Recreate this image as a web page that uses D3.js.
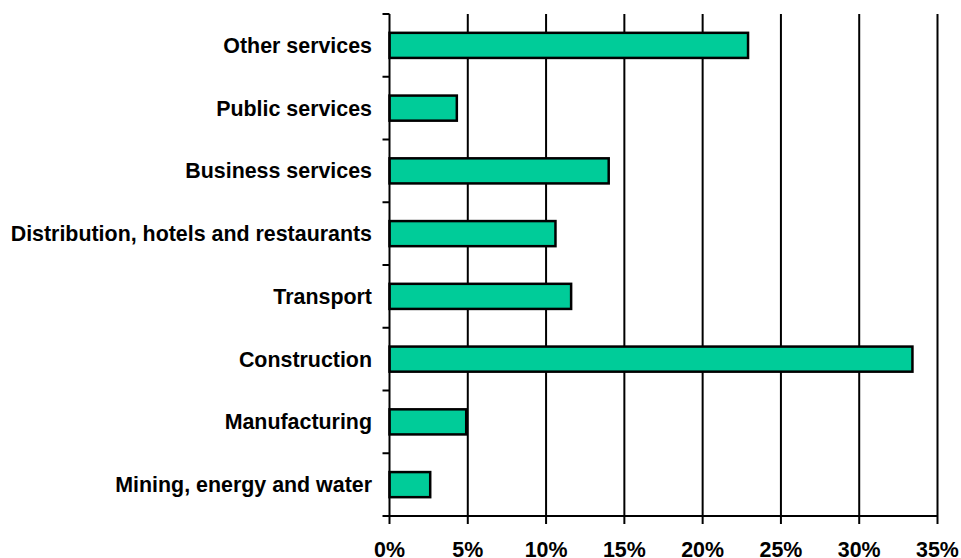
<!DOCTYPE html>
<html>
<head>
<meta charset="utf-8">
<script src="https://cdn.jsdelivr.net/npm/d3@7"></script>
<style>
  html, body { margin: 0; padding: 0; background: #fff; }
  svg { display: block; }
  text { font-family: "Liberation Sans", Arial, sans-serif; font-weight: bold; fill: #000; }
</style>
</head>
<body>
<svg id="chart" width="961" height="558"></svg>
<script>
// Sectors, top to bottom
const categories = [
  "Other services",
  "Public services",
  "Business services",
  "Distribution, hotels and restaurants",
  "Transport",
  "Construction",
  "Manufacturing",
  "Mining, energy and water"
];
// Share of each sector, in percent
const shares = [22.9, 4.3, 14.0, 10.6, 11.6, 33.4, 4.9, 2.6];
const xTicks = [0, 5, 10, 15, 20, 25, 30, 35];

const svg = d3.select("#chart");
const plotLeft = 389.5, plotRight = 937.5, plotTop = 14, plotBottom = 516;
const fontSize = 21.4;

const x = d3.scaleLinear().domain([0, 35]).range([plotLeft, plotRight]);
const y = d3.scaleBand().domain(categories).range([plotTop, plotBottom]).paddingInner(0.6).paddingOuter(0.3);

// vertical gridlines
svg.append("g")
  .selectAll("line")
  .data(xTicks.slice(1))
  .join("line")
  .attr("x1", d => x(d)).attr("x2", d => x(d))
  .attr("y1", plotTop).attr("y2", plotBottom)
  .attr("stroke", "#000").attr("stroke-width", 2);

// bars
svg.append("g")
  .selectAll("rect")
  .data(categories)
  .join("rect")
  .attr("x", x(0))
  .attr("y", d => y(d))
  .attr("width", (d, i) => x(shares[i]) - x(0))
  .attr("height", y.bandwidth())
  .attr("fill", "#00CC99")
  .attr("stroke", "#000")
  .attr("stroke-width", 2.5);

// category axis: line with tick marks at band boundaries
const yAxis = svg.append("g");
yAxis.append("line")
  .attr("x1", plotLeft).attr("x2", plotLeft)
  .attr("y1", plotTop).attr("y2", plotBottom)
  .attr("stroke", "#000").attr("stroke-width", 2);
const step = (plotBottom - plotTop) / categories.length;
yAxis.selectAll("line.tick")
  .data(d3.range(categories.length + 1))
  .join("line")
  .attr("class", "tick")
  .attr("x1", plotLeft - 7).attr("x2", plotLeft)
  .attr("y1", i => plotTop + i * step).attr("y2", i => plotTop + i * step)
  .attr("stroke", "#000").attr("stroke-width", 2);
yAxis.selectAll("text")
  .data(categories)
  .join("text")
  .attr("x", 372)
  .attr("y", d => y(d) + y.bandwidth() / 2)
  .attr("dy", "0.35em")
  .attr("text-anchor", "end")
  .attr("font-size", fontSize)
  .text(d => d);

// value axis
const xAxis = svg.append("g");
xAxis.append("line")
  .attr("x1", plotLeft).attr("x2", plotRight)
  .attr("y1", plotBottom).attr("y2", plotBottom)
  .attr("stroke", "#000").attr("stroke-width", 2);
xAxis.selectAll("line.tick")
  .data(xTicks)
  .join("line")
  .attr("class", "tick")
  .attr("x1", d => x(d)).attr("x2", d => x(d))
  .attr("y1", plotBottom).attr("y2", plotBottom + 8)
  .attr("stroke", "#000").attr("stroke-width", 2);
xAxis.selectAll("text")
  .data(xTicks)
  .join("text")
  .attr("x", d => x(d))
  .attr("y", 556.5)
  .attr("text-anchor", "middle")
  .attr("font-size", fontSize)
  .text(d => d + "%");
</script>
</body>
</html>
